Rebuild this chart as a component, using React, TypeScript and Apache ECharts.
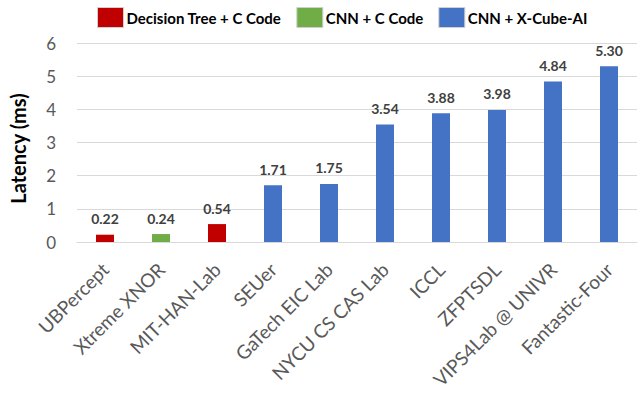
import React, { useEffect, useRef } from "react";
import * as echarts from "echarts";

const categories = ["UBPercept", "Xtreme XNOR", "MIT-HAN-Lab", "SEUer", "GaTech EIC Lab", "NYCU CS CAS Lab", "ICCL", "ZFPTSDL", "VIPS4Lab @ UNIVR", "Fantastic-Four"];
const treeC = [0.22, "-", 0.54, "-", "-", "-", "-", "-", "-", "-"];
const cnnC = ["-", 0.24, "-", "-", "-", "-", "-", "-", "-", "-"];
const cnnCube = ["-", "-", "-", 1.71, 1.75, 3.54, 3.88, 3.98, 4.84, 5.30];
const seriesNames = ["Decision Tree + C Code", "CNN + C Code", "CNN + X-Cube-AI"];
const colors = ["#C00000", "#70AD47", "#4472C4"];
const yTicks = [0, 1, 2, 3, 4, 5, 6];

const FONT = "Lato, 'Open Sans', sans-serif";

export default function App() {
  const ref = useRef<HTMLDivElement>(null);
  useEffect(() => {
    const chart = echarts.init(ref.current!, null, { renderer: "svg" });
    const datas = [treeC, cnnC, cnnCube];
    chart.setOption({
      animation: false,
      textStyle: { fontFamily: FONT },
      legend: {
        left: 92,
        top: 2,
        itemWidth: 26,
        itemHeight: 20,
        itemGap: 15,
        icon: "rect",
        textStyle: { fontFamily: FONT, fontSize: 15, fontWeight: "bold", color: "#000", padding: [0, 0, 0, -2] },
        data: seriesNames.map((n, i) => ({
          name: n,
          itemStyle: { color: colors[i], borderColor: "#d0d0d0", borderWidth: 1 },
        })),
      },
      grid: { left: 64, right: 3, top: 43, bottom: 154, containLabel: false },
      xAxis: {
        type: "category",
        data: categories,
        axisLine: { lineStyle: { color: "#d9d9d9", width: 1 } },
        axisTick: { show: false },
        axisLabel: { rotate: 45, interval: 0, fontSize: 19, color: "#595959", fontFamily: FONT, margin: 24 },
      },
      yAxis: {
        type: "value",
        min: yTicks[0],
        max: yTicks[yTicks.length - 1],
        interval: 1,
        name: "Latency (ms)",
        nameLocation: "middle",
        nameGap: 49,
        nameTextStyle: { fontSize: 20, fontWeight: "bold", color: "#000", fontFamily: FONT, padding: [0, 12, 0, 0] },
        axisLine: { show: false },
        axisTick: { show: false },
        axisLabel: { fontSize: 17, color: "#595959", margin: 21, fontFamily: FONT },
        splitLine: { lineStyle: { color: "#d9d9d9", width: 1 } },
      },
      series: seriesNames.map((n, i) => ({
        name: n,
        type: "bar",
        stack: "all",
        barWidth: 18,
        data: datas[i],
        itemStyle: { color: colors[i] },
        label: {
          show: true,
          position: "top",
          distance: 9,
          formatter: (p: any) => Number(p.value).toFixed(2),
          fontSize: 14,
          fontWeight: "bold",
          color: "#404040",
          fontFamily: FONT,
        },
      })),
    });
    return () => chart.dispose();
  }, []);
  return <div ref={ref} style={{ position: "absolute", left: 0, top: 0, width: 640, height: 396 }} />;
}
